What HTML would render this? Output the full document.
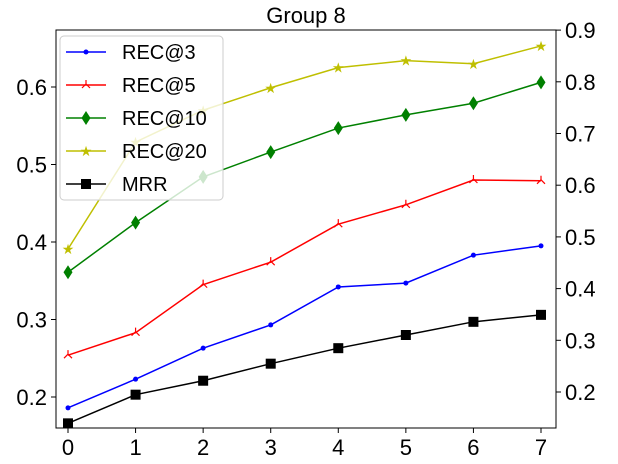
<!DOCTYPE html>
<html><head><meta charset="utf-8"><style>
body{margin:0;background:#fff}
svg{display:block;font-family:"Liberation Sans","DejaVu Sans",sans-serif}
</style></head><body>
<svg id="c" width="618" height="464"></svg>
<script>
const categories=[0,1,2,3,4,5,6,7];
const rec3=[0.186,0.223,0.263,0.293,0.342,0.347,0.383,0.395];
const rec5=[0.254,0.283,0.345,0.374,0.423,0.448,0.480,0.479];
const rec10=[0.361,0.425,0.484,0.516,0.547,0.564,0.579,0.606];
const rec20=[0.391,0.529,0.570,0.599,0.625,0.634,0.630,0.653];
const mrr=[0.166,0.203,0.221,0.243,0.263,0.280,0.297,0.306];
const leftTicks=[0.2,0.3,0.4,0.5,0.6];
const rightTicks=[0.2,0.3,0.4,0.5,0.6,0.7,0.8,0.9];
const NS="http://www.w3.org/2000/svg";
const svg=document.getElementById('c');
const L=56,R=556,T=30,B=428;
const x=i=>68+i*(541-68)/7;
const y=v=>397-(v-0.2)*775;
const yr=v=>392-(v-0.2)*517;
function mk(t,a,p){const e=document.createElementNS(NS,t);for(const k in a)e.setAttribute(k,a[k]);(p||svg).appendChild(e);return e;}
let e=mk('text',{x:306,y:23,'text-anchor':'middle','font-size':22,fill:'#000'});e.textContent='Group 8';


e=mk('rect',{x:L,y:T,width:R-L,height:B-T,fill:'none',stroke:'#000','stroke-width':1});


categories.forEach((c,i)=>{mk('line',{x1:x(i),x2:x(i),y1:B,y2:B+5,stroke:'#000'});
 const t=mk('text',{x:x(i),y:B+27,'text-anchor':'middle','font-size':22});t.textContent=c;
 
 });
leftTicks.forEach(v=>{mk('line',{x1:L-5,x2:L,y1:y(v),y2:y(v),stroke:'#000'});
 const t=mk('text',{x:L-9,y:y(v)+8,'text-anchor':'end','font-size':22});t.textContent=v.toFixed(1);
 
 });
rightTicks.forEach(v=>{mk('line',{x1:R,x2:R+5,y1:yr(v),y2:yr(v),stroke:'#000'});
 const t=mk('text',{x:R+9,y:yr(v)+8,'font-size':22});t.textContent=v.toFixed(1);
 
 });
function marker(type,cx,cy,col,g){
 if(type==='dot')return mk('circle',{cx,cy,r:2.5,fill:col},g);
 if(type==='tri')return mk('path',{d:`M${cx-4},${cy+3}L${cx},${cy-1}L${cx+4},${cy+3}M${cx},${cy-1}V${cy-5}`,stroke:col,fill:'none','stroke-width':1.2},g);
 if(type==='dia')return mk('path',{d:`M${cx},${cy-7}L${cx+4.5},${cy}L${cx},${cy+7}L${cx-4.5},${cy}Z`,fill:col},g);
 if(type==='star')return mk('text',{x:cx,y:cy+5,'text-anchor':'middle','font-size':14,fill:col},g).textContent='★';
 if(type==='sq')return mk('rect',{x:cx-5,y:cy-5,width:10,height:10,fill:col},g);
}
const series=[['REC@3',rec3,'#0000ff','dot'],['REC@5',rec5,'#ff0000','tri'],['REC@10',rec10,'#008000','dia'],['REC@20',rec20,'#bfbf00','star'],['MRR',mrr,'#000000','sq']];
series.forEach(([n,d,col,m])=>{
 const g=mk('g',{});
 
 
 mk('polyline',{points:d.map((v,i)=>x(i)+','+y(v)).join(' '),fill:'none',stroke:col,'stroke-width':1.5},g);
 d.forEach((v,i)=>marker(m,x(i),y(v),col,g));
});
const lg=mk('g',{});


mk('rect',{x:60,y:36,width:163,height:164,rx:4,fill:'#fff','fill-opacity':0.8,stroke:'#ccc'},lg);
const ly=[52,85,118,151,184];
series.forEach(([n,d,col,m],k)=>{
 const g=mk('g',{},lg);
 
 
 mk('line',{x1:66,x2:106,y1:ly[k],y2:ly[k],stroke:col,'stroke-width':1.5},g);
 marker(m,86,ly[k],col,g);
 const t=mk('text',{x:122,y:ly[k]+7,'font-size':20},g);t.textContent=n;
});
</script>
</body></html>
